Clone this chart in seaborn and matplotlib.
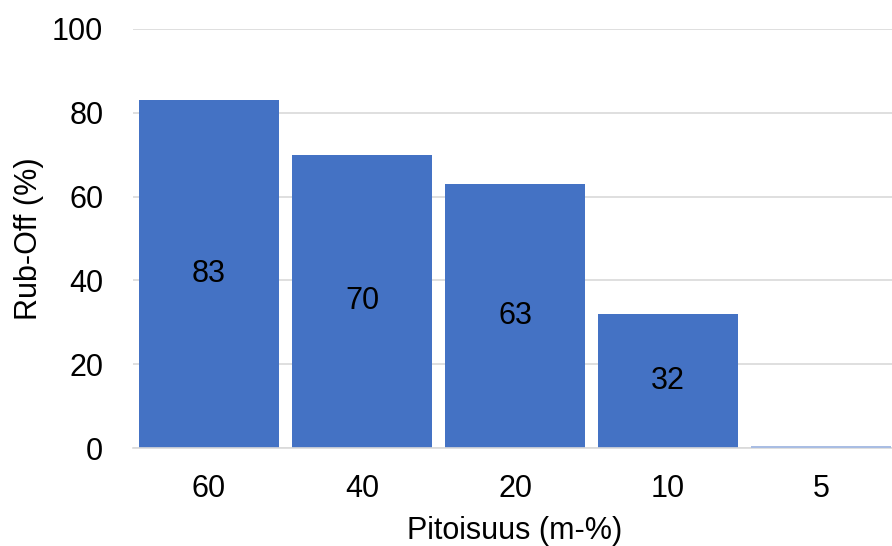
import matplotlib
matplotlib.use("Agg")
import matplotlib.pyplot as plt
import seaborn as sns
import pandas as pd

categories = ["60", "40", "20", "10", "5"]
values = [83, 70, 63, 32, 0]
y_ticks = [0, 20, 40, 60, 80, 100]

sns.set_theme(style="white")
plt.rcParams["font.family"] = ["Liberation Sans", "DejaVu Sans"]

FS = 22

df = pd.DataFrame({"Pitoisuus": categories, "RubOff": values})

fig = plt.figure(figsize=(8.92, 5.46), dpi=100)
ax = fig.add_axes([132.5 / 892, 98 / 546, 765 / 892, 419 / 546])

sns.barplot(data=df, x="Pitoisuus", y="RubOff", order=categories,
            color="#4472C4", saturation=1, width=0.915, ax=ax,
            linewidth=0.0)

# zero-height bar shows as a thin line on the baseline
for patch, v in zip(ax.patches, values):
    patch.set_linewidth(0)
    if v == 0:
        patch.set_height(0.4)
        patch.set_facecolor("#a9bde3")
        patch.set_zorder(3)

for patch, v in zip(ax.patches, values):
    if v > 0:
        ax.text(patch.get_x() + patch.get_width() / 2, v / 2, f"{v}",
                ha="center", va="center", fontsize=FS, color="black")

ax.set_ylim(0, 100)
ax.set_xlim(-0.5, 4.5)
ax.set_yticks(y_ticks)
ax.set_yticklabels([str(t) for t in y_ticks])
ax.yaxis.grid(True, color="#d9d9d9", linewidth=1.2)
ax.set_axisbelow(True)
for s in ["top", "right", "left"]:
    ax.spines[s].set_visible(False)
ax.spines["bottom"].set_color("#d9d9d9")
ax.spines["bottom"].set_linewidth(1.2)
ax.tick_params(axis="both", length=0, labelsize=FS, colors="black")
ax.tick_params(axis="y", pad=21)
ax.tick_params(axis="x", pad=19)
ax.set_xlabel("Pitoisuus (m-%)", fontsize=FS, labelpad=8, color="black")
ax.set_ylabel("Rub-Off (%)", fontsize=FS, labelpad=6, color="black")

fig.savefig("out.png", dpi=100)
